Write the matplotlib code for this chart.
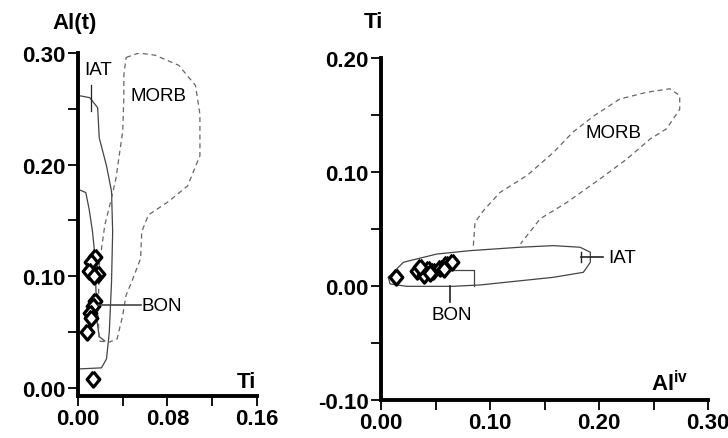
import matplotlib
matplotlib.use('Agg')
import matplotlib.pyplot as plt

plt.rcParams['font.family'] = ['Liberation Sans', 'DejaVu Sans']

# ---- left panel: Al(t) vs Ti ----
left_x = [0.015, 0.012, 0.010, 0.018, 0.014, 0.015, 0.013, 0.011, 0.012, 0.008, 0.013]
left_y = [0.117, 0.113, 0.105, 0.102, 0.100, 0.078, 0.073, 0.067, 0.063, 0.050, 0.008]

iat_l_x = [0.000, 0.0105, 0.0176, 0.019, 0.0255, 0.030, 0.031, 0.030, 0.028, 0.0255, 0.021, 0.000]
iat_l_y = [0.262, 0.260, 0.251, 0.224, 0.199, 0.176, 0.140, 0.095, 0.050, 0.026, 0.018, 0.017]

bon_l_x = [0.000, 0.007, 0.010, 0.013, 0.015, 0.016, 0.017, 0.019, 0.024]
bon_l_y = [0.178, 0.175, 0.160, 0.140, 0.120, 0.090, 0.060, 0.046, 0.042]

morb_l_x = [0.043, 0.0545, 0.069, 0.090, 0.105, 0.109, 0.109, 0.098, 0.081, 0.063, 0.057, 0.056,
            0.048, 0.043, 0.040, 0.035, 0.028, 0.019, 0.018, 0.019, 0.024, 0.030, 0.034, 0.040,
            0.041, 0.041, 0.043]
morb_l_y = [0.296, 0.300, 0.298, 0.289, 0.271, 0.245, 0.208, 0.181, 0.167, 0.155, 0.140, 0.116,
            0.095, 0.083, 0.065, 0.044, 0.041, 0.042, 0.065, 0.110, 0.146, 0.170, 0.188, 0.230,
            0.260, 0.280, 0.296]

# ---- right panel: Ti vs Al(iv) ----
right_x = [0.014, 0.033, 0.039, 0.043, 0.048, 0.054, 0.060, 0.065, 0.036, 0.045, 0.058]
right_y = [0.008, 0.013, 0.010, 0.015, 0.013, 0.016, 0.019, 0.021, 0.017, 0.011, 0.015]

iat_r_x = [0.0067, 0.0205, 0.051, 0.0817, 0.1275, 0.158, 0.1826, 0.192, 0.192, 0.1856, 0.158,
           0.0908, 0.066, 0.0236, 0.0083, 0.0067]
iat_r_y = [0.0076, 0.0208, 0.028, 0.031, 0.034, 0.0354, 0.034, 0.0296, 0.0208, 0.012, 0.0076,
           0.0009, -0.0003, -0.0003, 0.0018, 0.0076]

bon_r_x = [0.063, 0.085, 0.085]
bon_r_y = [0.014, 0.014, 0.000]

morb_r_x = [0.0847, 0.0862, 0.0939, 0.109, 0.134, 0.158, 0.176, 0.195, 0.219, 0.244, 0.265,
            0.274, 0.274, 0.262, 0.247, 0.225, 0.201, 0.170, 0.146, 0.128]
morb_r_y = [0.0354, 0.0559, 0.066, 0.082, 0.097, 0.117, 0.135, 0.149, 0.164, 0.170, 0.173,
            0.167, 0.155, 0.138, 0.129, 0.111, 0.094, 0.073, 0.059, 0.037]

diamond = [(0, 1.2), (1, 0), (0, -1.2), (-1, 0), (0, 1.2)]


def style_axes(ax):
    for s in ['top', 'right']:
        ax.spines[s].set_visible(False)
    for s in ['left', 'bottom']:
        ax.spines[s].set_linewidth(2.8)
    ax.tick_params(which='both', direction='out', length=7, width=1.3, pad=2,
                   labelsize=16)
    for lab in ax.get_xticklabels() + ax.get_yticklabels():
        lab.set_fontweight('bold')


fig = plt.figure(figsize=(7.28, 4.39), dpi=100)

# left
ax1 = fig.add_axes([0.1071, 0.0957, 0.2459, 0.7813])
ax1.plot(iat_l_x, iat_l_y, color='#444444', lw=0.9)
ax1.plot(bon_l_x, bon_l_y, color='#444444', lw=0.9)
ax1.plot(morb_l_x, morb_l_y, color='#666666', lw=0.9, ls=(0, (4, 3)))
ax1.plot(left_x, left_y, ls='none', marker=diamond, ms=11, mfc='white', mec='black', mew=2.3)
ax1.plot([0.012, 0.012], [0.248, 0.271], color='#222222', lw=0.9)
ax1.plot([0.018, 0.056], [0.074, 0.074], color='#444444', lw=1.2)
ax1.text(0.006, 0.285, 'IAT', fontsize=13.5, va='center')
ax1.text(0.047, 0.262, 'MORB', fontsize=13.5, va='center')
ax1.text(0.057, 0.074, 'BON', fontsize=13.5, va='center')
ax1.set_xlim(0, 0.16)
ax1.set_ylim(-0.0072, 0.30)
ax1.set_xticks([0.00, 0.08, 0.16])
ax1.set_xticks([0.04, 0.12], minor=True)
ax1.set_yticks([0.00, 0.10, 0.20, 0.30])
ax1.set_yticks([0.05, 0.15, 0.25], minor=True)
ax1.set_xticklabels(['0.00', '0.08', '0.16'])
ax1.set_yticklabels(['0.00', '0.10', '0.20', '0.30'])
style_axes(ax1)
fig.text(75 / 728, 1 - 24 / 439, 'Al(t)', fontsize=16, fontweight='bold', ha='center', va='center')
fig.text(246 / 728, 1 - 383 / 439, 'Ti', fontsize=16, fontweight='bold', ha='center', va='center')

# right
ax2 = fig.add_axes([0.5234, 0.0866, 0.4492, 0.779])
ax2.plot(iat_r_x, iat_r_y, color='#444444', lw=0.9)
ax2.plot(bon_r_x, bon_r_y, color='#444444', lw=0.9)
ax2.plot(morb_r_x, morb_r_y, color='#666666', lw=0.9, ls=(0, (4, 3)))
ax2.plot(right_x, right_y, ls='none', marker=diamond, ms=11, mfc='white', mec='black', mew=2.3)
ax2.plot([0.063, 0.063], [0.0, -0.014], color='#222222', lw=1.2)
ax2.plot([0.183, 0.204], [0.025, 0.025], color='#222222', lw=1.2)
ax2.plot([0.183, 0.183], [0.021, 0.030], color='#222222', lw=1.0)
ax2.text(0.208, 0.025, 'IAT', fontsize=13.5, va='center')
ax2.text(0.065, -0.025, 'BON', fontsize=13.5, va='center', ha='center')
ax2.text(0.188, 0.135, 'MORB', fontsize=13.5, va='center')
ax2.set_xlim(0, 0.30)
ax2.set_ylim(-0.10, 0.20)
ax2.set_xticks([0.00, 0.10, 0.20, 0.30])
ax2.set_xticks([0.05, 0.15, 0.25], minor=True)
ax2.set_yticks([-0.10, 0.00, 0.10, 0.20])
ax2.set_yticks([-0.05, 0.05, 0.15], minor=True)
ax2.set_xticklabels(['0.00', '0.10', '0.20', '0.30'])
ax2.set_yticklabels(['-0.10', '0.00', '0.10', '0.20'])
style_axes(ax2)
fig.text(373 / 728, 1 - 22 / 439, 'Ti', fontsize=16, fontweight='bold', ha='center', va='center')
fig.text(670 / 728, 1 - 384 / 439, r'Al$^{\mathregular{iv}}$', fontsize=16, fontweight='bold',
         ha='center', va='center')

fig.savefig('out.png', dpi=100)
